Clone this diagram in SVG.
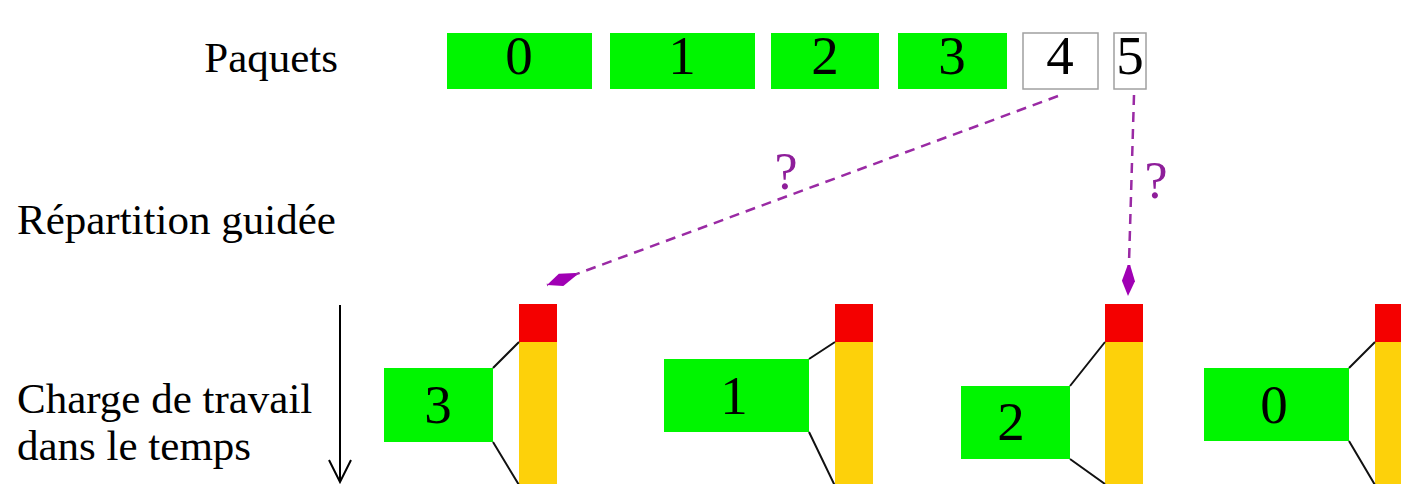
<svg xmlns="http://www.w3.org/2000/svg" width="1401" height="484" viewBox="0 0 1401 484">
<defs>
<style>
.lbl{font-family:"Liberation Serif","Times New Roman",serif;font-size:43px;fill:#000}
.dig{font-family:"Liberation Serif","Times New Roman",serif;font-size:55px;fill:#000;text-anchor:middle}
.q{font-family:"Liberation Serif","Times New Roman",serif;font-size:52px;fill:#8e1e9a;text-anchor:middle}
.g{fill:#00f500}
.w{fill:#fff;stroke:#a0a0a0;stroke-width:1.5}
.red{fill:#f40000}
.yel{fill:#fdd10a}
.fn{stroke:#111;stroke-width:2;fill:none}
.dash{stroke:#9a2aa4;stroke-width:2.5;fill:none;stroke-dasharray:10 7}
</style>
<marker id="kite" viewBox="-33 -8 35 16" refX="0" refY="0" markerWidth="35" markerHeight="16" markerUnits="userSpaceOnUse" orient="auto">
<path d="M0,0 L-15,-6.5 L-31,-1.2 L-31,1.2 L-15,6.5 Z" fill="#a000b4"/>
</marker>
</defs>
<rect width="1401" height="484" fill="#fff"/>
<g id="labels">
<text class="lbl" x="338" y="72" text-anchor="end">Paquets</text>
<text class="lbl" x="17" y="234">Répartition guidée</text>
<text class="lbl" x="17" y="413">Charge de travail</text>
<text class="lbl" x="17" y="460">dans le temps</text>
</g>
<g id="packet-0"><rect class="g" x="447" y="33" width="145" height="56"/><text class="dig" x="519" y="74">0</text></g>
<g id="packet-1"><rect class="g" x="610" y="33" width="145" height="56"/><text class="dig" x="682" y="74">1</text></g>
<g id="packet-2"><rect class="g" x="771" y="33" width="108" height="56"/><text class="dig" x="825" y="74">2</text></g>
<g id="packet-3"><rect class="g" x="898" y="33" width="109" height="56"/><text class="dig" x="952" y="74">3</text></g>
<g id="packet-4"><rect class="w" x="1023" y="33" width="75" height="56"/><text class="dig" x="1060" y="74">4</text></g>
<g id="packet-5"><rect class="w" x="1114" y="33" width="32" height="56"/><text class="dig" x="1130" y="74">5</text></g>
<g id="worker-1">
<rect class="red" x="519" y="304" width="38" height="38"/>
<rect class="yel" x="519" y="342" width="38" height="150"/>
<path class="fn" d="M493,368 L519,342 M493,442 L519,485"/>
<rect class="g" x="384" y="368" width="109" height="74"/>
<text class="dig" x="438" y="423">3</text>
</g>
<g id="worker-2">
<rect class="red" x="835" y="304" width="38" height="38"/>
<rect class="yel" x="835" y="342" width="38" height="150"/>
<path class="fn" d="M809,359 L835,342 M809,432 L835,486"/>
<rect class="g" x="664" y="359" width="145" height="73"/>
<text class="dig" x="734" y="414">1</text>
</g>
<g id="worker-3">
<rect class="red" x="1105" y="304" width="38" height="38"/>
<rect class="yel" x="1105" y="342" width="38" height="150"/>
<path class="fn" d="M1070,386 L1105,342 M1070,459 L1105,484"/>
<rect class="g" x="961" y="386" width="109" height="73"/>
<text class="dig" x="1011" y="440">2</text>
</g>
<g id="worker-4">
<rect class="red" x="1375" y="304" width="38" height="38"/>
<rect class="yel" x="1375" y="342" width="38" height="150"/>
<path class="fn" d="M1349,368 L1375,342 M1349,441 L1375,485"/>
<rect class="g" x="1204" y="368" width="145" height="73"/>
<text class="dig" x="1274" y="423">0</text>
</g>
<g id="connectors">
<line class="dash" x1="1058" y1="96" x2="547" y2="285" marker-end="url(#kite)"/>
<line class="dash" x1="1134" y1="95" x2="1128" y2="296" marker-end="url(#kite)"/>
<path d="M340,305 L340,482 M329,460 L340,482 L351,460" stroke="#000" stroke-width="2" fill="none"/>
<text class="q" x="786" y="189">?</text>
<text class="q" x="1156" y="198">?</text>
</g>
</svg>
